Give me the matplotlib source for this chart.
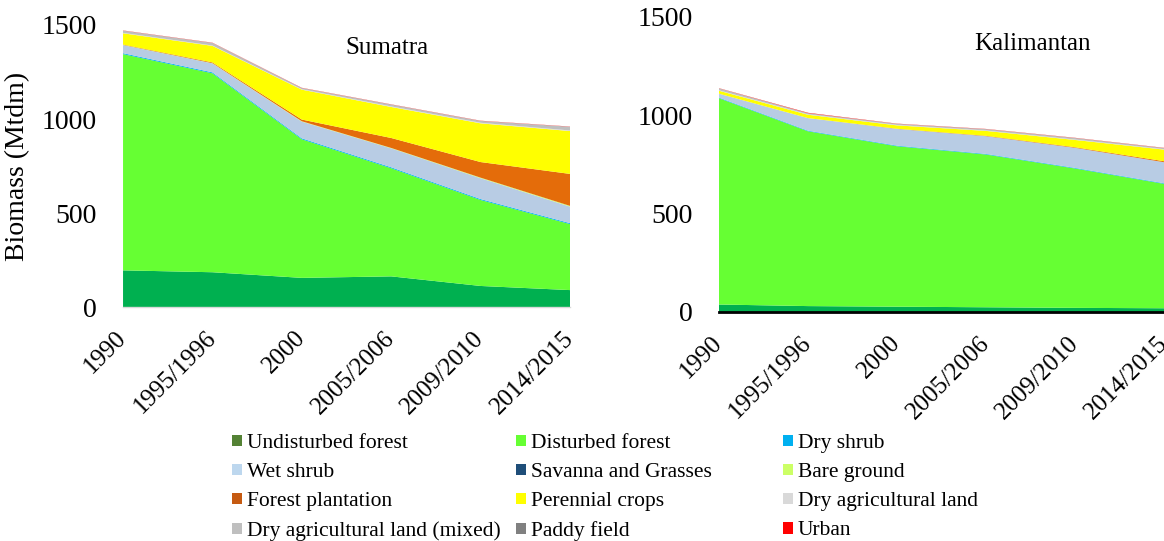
import matplotlib
matplotlib.use("Agg")
import matplotlib.pyplot as plt
from matplotlib.patches import Patch

plt.rcParams['font.family'] = ['Liberation Serif', 'DejaVu Serif']

periods = ["1990", "1995/1996", "2000", "2005/2006", "2009/2010", "2014/2015"]

classes = ["Undisturbed forest", "Disturbed forest", "Dry shrub", "Wet shrub",
           "Savanna and Grasses", "Bare ground", "Forest plantation",
           "Perennial crops", "Dry agricultural land",
           "Dry agricultural land (mixed)", "Paddy field", "Urban"]

fill_colors = ["#00B050", "#66FF33", "#00B0F0", "#B8CCE4", "#1F4E79", "#CCFF66",
               "#E46C0A", "#FFFF00", "#D9D9D9", "#BFBFBF", "#808080", "#FF0000"]
legend_colors = ["#548235", "#66FF33", "#00B0F0", "#BDD7EE", "#1F4E79", "#CCFF66",
                 "#C55A11", "#FFFF00", "#D9D9D9", "#BFBFBF", "#808080", "#FF0000"]

# biomass per land cover class, Mt dry matter
sumatra = {
    "Undisturbed forest": [195, 185, 155, 163, 112, 90],
    "Disturbed forest": [1150, 1058, 737, 575, 457, 351],
    "Dry shrub": [5, 5, 5, 5, 5, 5],
    "Wet shrub": [43, 48, 89, 101, 111, 88],
    "Savanna and Grasses": [0, 0, 0, 0, 0, 0],
    "Bare ground": [1, 1, 2, 2, 3, 4],
    "Forest plantation": [2, 4, 9, 53, 83, 170],
    "Perennial crops": [60, 88, 159, 165, 206, 228],
    "Dry agricultural land": [2, 2, 2, 3, 3, 3],
    "Dry agricultural land (mixed)": [12, 14, 7, 10, 10, 20],
    "Paddy field": [0, 0, 0, 0, 0, 0],
    "Urban": [1, 1, 1, 1, 1, 1],
}

kalimantan = {
    "Undisturbed forest": [38, 30, 27, 24, 21, 19],
    "Disturbed forest": [1048, 888, 815, 776, 708, 632],
    "Dry shrub": [3, 3, 3, 3, 3, 3],
    "Wet shrub": [20, 64, 85, 90, 102, 107],
    "Savanna and Grasses": [0, 0, 0, 0, 0, 0],
    "Bare ground": [0, 0, 0, 0, 0, 0],
    "Forest plantation": [0, 0, 1, 2, 3, 5],
    "Perennial crops": [15, 17, 17, 25, 37, 59],
    "Dry agricultural land": [2, 2, 2, 2, 2, 2],
    "Dry agricultural land (mixed)": [10, 6, 6, 7, 8, 6],
    "Paddy field": [0, 0, 0, 0, 0, 0],
    "Urban": [1, 2, 1, 1, 1, 1],
}

fig = plt.figure(figsize=(11.64, 5.41), dpi=100)
ax1 = fig.add_axes([0.1057, 0.4325, 0.384, 0.5213])
ax2 = fig.add_axes([0.6177, 0.4233, 0.3823, 0.5458])

x = list(range(len(periods)))


def draw(ax, data, title, title_xy, spine_color, spine_lw):
    ax.stackplot(x, [data[c] for c in classes], colors=fill_colors, linewidth=0)
    ax.set_xlim(0, len(periods) - 1)
    ax.set_ylim(0, 1500)
    ax.set_yticks([0, 500, 1000, 1500])
    ax.set_xticks(x)
    ax.set_xticklabels(periods, rotation=45, ha='right', va='center',
                       rotation_mode='anchor', fontsize=18)
    ax.tick_params(axis='both', length=0)
    ax.tick_params(axis='y', pad=19, labelsize=20)
    ax.tick_params(axis='x', pad=20)
    for s in ['top', 'right', 'left']:
        ax.spines[s].set_visible(False)
    ax.spines['bottom'].set_color(spine_color)
    ax.spines['bottom'].set_linewidth(spine_lw)
    ax.text(*title_xy, title, transform=ax.transAxes, fontsize=18,
            ha='center', va='center')


draw(ax1, sumatra, "Sumatra", (0.59, 0.919), "#D9D9D9", 1.0)
draw(ax2, kalimantan, "Kalimantan", (0.704, 0.908), "black", 2.0)
ax1.set_ylabel("Biomass (Mtdm)", fontsize=20)
ax1.yaxis.set_label_coords(-0.208, 0.5)

# legend laid out as three columns read row by row
col_x = [0.1996, 0.4436, 0.6726]
for j in range(3):
    handles = [Patch(facecolor=legend_colors[i], label=classes[i])
               for i in range(j, len(classes), 3)]
    fig.legend(handles=handles, loc='upper left', bbox_to_anchor=(col_x[j], 0.1976),
               frameon=False, fontsize=15.5, handlelength=0.45, handleheight=0.45,
               handletextpad=0.25, labelspacing=0.47, borderpad=0,
               borderaxespad=0)

fig.savefig("out.png", dpi=100)
